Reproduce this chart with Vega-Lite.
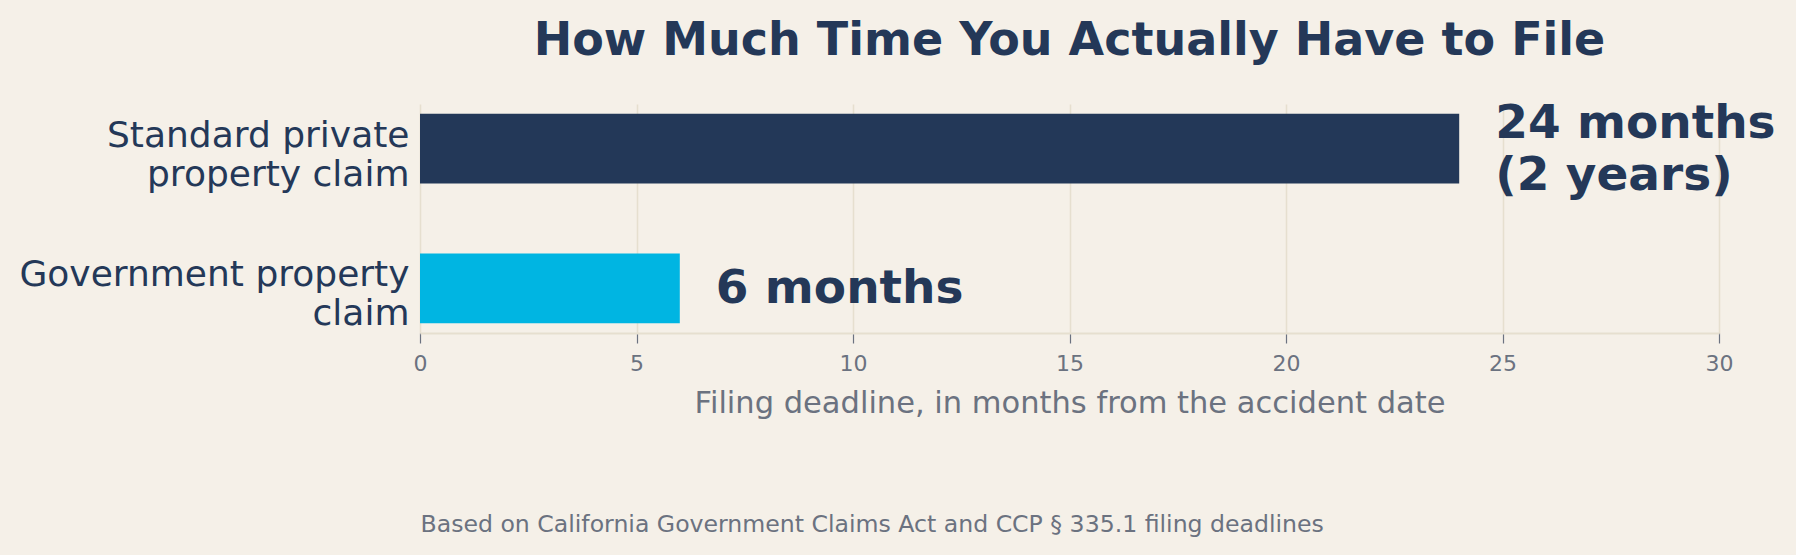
{
  "$schema": "https://vega.github.io/schema/vega-lite/v6.json",
  "width": 1299,
  "height": 229,
  "autosize": {"type": "none"},
  "padding": {"left": 420, "top": 104, "right": 77, "bottom": 222},
  "background": "#f5f0e8",
  "config": {
    "font": "DejaVu Sans",
    "view": {"stroke": null}
  },
  "title": {
    "text": "How Much Time You Actually Have to File",
    "fontSize": 46,
    "fontWeight": "bold",
    "color": "#243858",
    "anchor": "middle",
    "offset": 35
  },
  "data": {
    "values": [
      {"claim": "Standard private property claim", "months": 24, "label": "24 months\n(2 years)"},
      {"claim": "Government property claim", "months": 6, "label": "6 months"}
    ]
  },
  "encoding": {
    "y": {
      "field": "claim",
      "type": "nominal",
      "sort": null,
      "scale": {"paddingInner": 0.5, "paddingOuter": 0.07},
      "axis": {
        "title": null,
        "domain": false,
        "ticks": false,
        "grid": false,
        "labelFontSize": 36,
        "labelColor": "#243858",
        "labelPadding": 11,
        "labelLimit": 0,
        "labelLineHeight": 39,
        "labelOffset": -13,
        "labelExpr": "datum.label == 'Standard private property claim' ? ['Standard private', 'property claim'] : ['Government property', 'claim']"
      }
    }
  },
  "layer": [
    {
      "mark": {"type": "bar"},
      "encoding": {
        "x": {
          "field": "months",
          "type": "quantitative",
          "scale": {"domain": [0, 30], "nice": false},
          "axis": {
            "title": "Filing deadline, in months from the accident date",
            "titleFontSize": 30.5,
            "titleFontWeight": "normal",
            "titleColor": "#6b7280",
            "titlePadding": 14,
            "values": [0, 5, 10, 15, 20, 25, 30],
            "labelFlush": false,
            "labelFontSize": 22,
            "labelColor": "#6b7280",
            "labelPadding": 10,
            "tickColor": "#6b7280",
            "tickSize": 10,
            "tickWidth": 1.2,
            "domainColor": "#e6dfcf",
            "domainWidth": 2,
            "grid": true,
            "gridColor": "#e6dfcf",
            "gridWidth": 1.6
          }
        },
        "color": {
          "field": "claim",
          "type": "nominal",
          "scale": {
            "domain": ["Standard private property claim", "Government property claim"],
            "range": ["#233858", "#00b5e2"]
          },
          "legend": null
        }
      }
    },
    {
      "mark": {
        "type": "text",
        "align": "left",
        "baseline": "middle",
        "dx": 36,
        "dy": {"expr": "indexof(datum.label, '\\n') >= 0 ? -25 : 1"},
        "fontSize": 47,
        "fontWeight": "bold",
        "lineHeight": 52,
        "lineBreak": "\n",
        "color": "#243858"
      },
      "encoding": {
        "x": {
          "field": "months",
          "type": "quantitative",
          "scale": {"domain": [0, 30], "nice": false},
          "axis": {
            "orient": "bottom",
            "title": "Based on California Government Claims Act and CCP § 335.1 filing deadlines",
            "titleAnchor": "start",
            "titleFontSize": 23.6,
            "titleFontWeight": "normal",
            "titleColor": "#6b7280",
            "titlePadding": 179,
            "labels": false,
            "ticks": false,
            "domain": false,
            "grid": false
          }
        },
        "text": {"field": "label"}
      }
    }
  ],
  "resolve": {"scale": {"x": "independent"}, "axis": {"x": "independent"}}
}
